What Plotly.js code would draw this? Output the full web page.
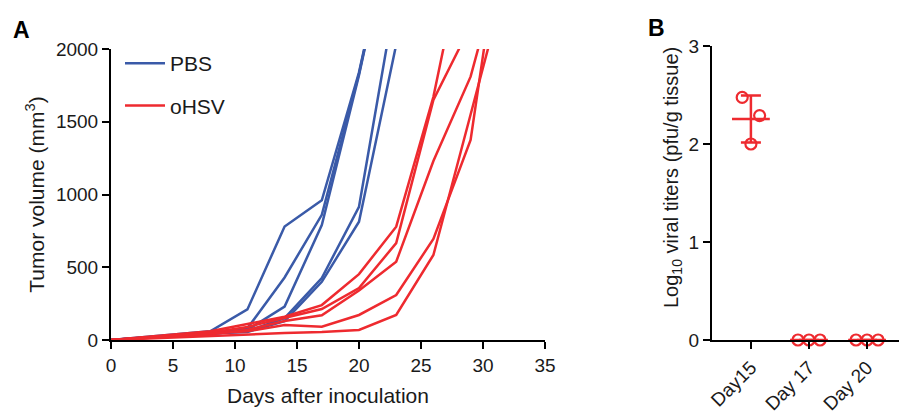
<!DOCTYPE html>
<html>
<head>
<meta charset="utf-8">
<script src="https://cdn.plot.ly/plotly-3.0.1.min.js"></script>
<style>html,body{margin:0;padding:0;background:#fff}#chart{width:899px;height:417px}</style>
</head>
<body>
<div id="chart"></div>
<script>
// ---- Panel A data: tumor volume (mm^3) vs days after inoculation ----
const pbsDays = [0, 8, 11, 14, 17, 20, 23];
const pbs1 = [0, 60, 210, 780, 960, 1840, 3000];
const pbs2 = [0, 50, 80, 430, 860, 1830, 3000];
const pbs3 = [0, 40, 70, 230, 790, 1820, 3000];
const pbs4 = [0, 50, 60, 150, 426, 916, 2390];
const pbs5 = [0, 45, 55, 130, 400, 813, 2030];

const ohsvDays = [0, 8, 11, 14, 17, 20, 23, 26, 29, 31];
const ohsv1 = [0, 60, 110, 160, 240, 453, 779, 1672, 2900, 3500];
const ohsv2 = [0, 50, 90, 150, 213, 357, 666, 1650, 2170, 2500];
const ohsv3 = [0, 40, 70, 130, 170, 340, 538, 1230, 1810, 2440];
const ohsv4 = [0, 40, 60, 103, 91, 172, 309, 694, 1375, 2535];
const ohsv5 = [0, 30, 40, 48, 55, 69, 172, 584, 1550, 2194];

const xTicksA = [0, 5, 10, 15, 20, 25, 30, 35];
const yTicksA = [0, 500, 1000, 1500, 2000];

// ---- Panel B data: Log10 viral titers ----
const titerLabels = ['Day15', 'Day 17', 'Day 20'];
const day15Titers = [2.475, 2.29, 2.0];
const day17Titers = [0, 0, 0];
const day20Titers = [0, 0, 0];
const yTicksB = [0, 1, 2, 3];

// style: horizontal scatter of replicate points within a category
const spreadDay15 = [-0.15, 0.15, 0];
const spreadOther = [-0.19, 0, 0.19];

const BLUE = '#3a5aa8';
const RED = '#ee2a2f';
const FONT = 'Liberation Sans, Arial, sans-serif';

function mean(a){return a.reduce((s,v)=>s+v,0)/a.length;}
function sd(a){const m=mean(a);return Math.sqrt(a.reduce((s,v)=>s+(v-m)*(v-m),0)/(a.length-1));}

const traces = [];
[pbs1,pbs2,pbs3,pbs4,pbs5].forEach((s,i)=>{
  traces.push({x:pbsDays,y:s,type:'scatter',mode:'lines',name:'PBS',legendgroup:'pbs',
    showlegend:i===0,line:{color:BLUE,width:2.5},xaxis:'x',yaxis:'y'});
});
[ohsv1,ohsv2,ohsv3,ohsv4,ohsv5].forEach((s,i)=>{
  traces.push({x:ohsvDays,y:s,type:'scatter',mode:'lines',name:'oHSV',legendgroup:'ohsv',
    showlegend:i===0,line:{color:RED,width:2.5},xaxis:'x',yaxis:'y'});
});

// Panel B
const groups = [day15Titers, day17Titers, day20Titers];
groups.forEach((g,gi)=>{
  const spread = gi===0 ? spreadDay15 : spreadOther;
  traces.push({x:g.map((v,k)=>gi+spread[k]),y:g,type:'scatter',mode:'markers',showlegend:false,
    cliponaxis:false,marker:{symbol:'circle-open',size:11,color:RED,line:{width:2.2,color:RED}},
    xaxis:'x2',yaxis:'y2'});
});
// mean ± SD for each group
traces.push({x:[0,1,2],y:groups.map(mean),type:'scatter',mode:'markers',showlegend:false,cliponaxis:false,
  marker:{symbol:'line-ew',size:27,line:{width:2.5,color:RED},color:RED},
  error_y:{type:'data',array:groups.map(sd),visible:true,color:RED,thickness:2.5,width:10},
  xaxis:'x2',yaxis:'y2'});

const W=899,H=417;
const axBase = {showgrid:false,zeroline:false,showline:true,linecolor:'#000',linewidth:2,
  ticks:'outside',ticklen:7,tickwidth:2,tickcolor:'#000',tickfont:{size:19},automargin:false};
const layout = {
  width:W,height:H,margin:{l:0,r:0,t:0,b:0},
  paper_bgcolor:'#fff',plot_bgcolor:'#fff',
  font:{family:FONT,size:19,color:'#1a1a1a'},
  showlegend:true,
  legend:{x:120/W,y:1-43/H,xanchor:'left',yanchor:'top',bgcolor:'rgba(0,0,0,0)',
    font:{size:21,family:FONT},traceorder:'grouped',tracegroupgap:12,itemwidth:40},
  xaxis:Object.assign({},axBase,{domain:[111/W,545/W],range:[0,35],tickvals:xTicksA,
    title:{text:'Days after inoculation',font:{size:21},standoff:14},anchor:'y'}),
  yaxis:Object.assign({},axBase,{domain:[1-340/H,1-49/H],range:[0,2000],tickvals:yTicksA,
    title:{text:'Tumor volume (mm<sup>3</sup>)',font:{size:21},standoff:6},anchor:'x'}),
  xaxis2:Object.assign({},axBase,{domain:[712/W,1],range:[-0.67,2.55],tickvals:[0,1,2],ticktext:titerLabels,
    tickangle:-45,anchor:'y2'}),
  yaxis2:Object.assign({},axBase,{domain:[1-340/H,1-46/H],range:[0,3],tickvals:yTicksB,anchor:'x2'}),
  annotations:[
    {text:'<b>A</b>',xref:'paper',yref:'paper',x:11/W,y:1-30/H,xanchor:'left',yanchor:'middle',showarrow:false,font:{size:23,color:'#000'}},
    {text:'<b>B</b>',xref:'paper',yref:'paper',x:646/W,y:1-28/H,xanchor:'left',yanchor:'middle',showarrow:false,font:{size:23,color:'#000'}},
    {text:'Log<sub>10</sub> viral titers (pfu/g tissue)',xref:'paper',yref:'paper',x:672/W,y:1-178/H,
      xanchor:'center',yanchor:'middle',textangle:-90,showarrow:false,font:{size:20,color:'#1a1a1a'}}
  ]
};
Plotly.newPlot('chart',traces,layout,{displayModeBar:false,staticPlot:true});
</script>
</body>
</html>
